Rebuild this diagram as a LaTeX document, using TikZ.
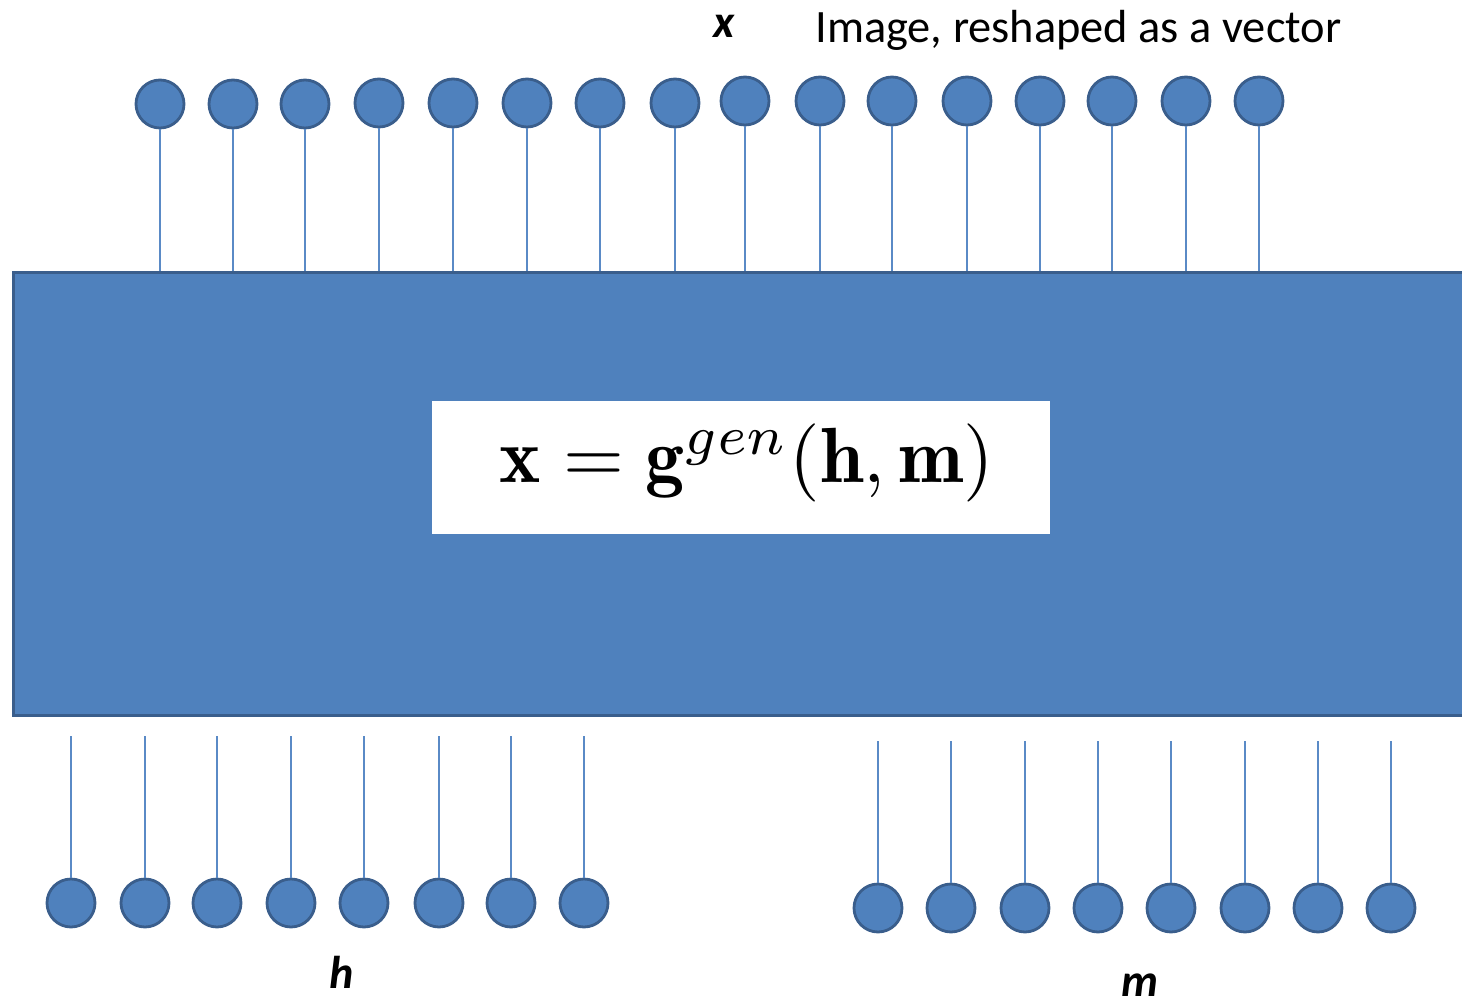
\documentclass[tikz,border=0pt]{standalone}
\usepackage{fontspec}
\usepackage{amsmath}
\usepackage{graphicx}
\newfontfamily\calib{Carlito}
\definecolor{boxblue}{HTML}{4F81BD}
\definecolor{edgeblue}{HTML}{3A5E8C}
\definecolor{stemblue}{HTML}{5A8AC6}
\begin{document}
\begin{tikzpicture}[x=0.5pt,y=-0.5pt,
  unit/.style={circle,fill=boxblue,draw=edgeblue,line width=1.4pt,minimum size=24pt,inner sep=0pt},
  stem/.style={draw=stemblue,line width=1pt},
  lbl/.style={font=\calib\fontsize{23}{27}\selectfont\bfseries\itshape,inner sep=0pt},
  capt/.style={font=\calib\fontsize{23.2}{27}\selectfont,inner sep=0pt,anchor=west}]
\clip (0,0) rectangle (1462,1006);
% main block
\node[draw=edgeblue,fill=boxblue,line width=1.5pt,minimum width=750pt,minimum height=221.5pt,inner sep=0pt,anchor=north west] (gen) at (12,271) {};
\node[fill=white,minimum width=309pt,minimum height=66.5pt,inner sep=0pt] (eq) at (741,467.5) {};
\node[inner sep=0pt] (eqtext) at (747,463)
  {\resizebox{247pt}{!}{$\mathbf{x}=\mathbf{g}^{gen}(\mathbf{h},\mathbf{m})$}};
% top units (x)
\foreach \i/\px/\py in {1/160/104,2/233/104,3/305/104,4/379/103,5/453/103,6/527/103,7/600/103,8/675/103,9/745/101,10/820/101,11/892/101,12/967/101,13/1040/101,14/1112/101,15/1186/101,16/1259/101}{
  \node[unit] (t\i) at (\px,\py) {};
  \draw[stem] (t\i.south) -- (t\i.south |- gen.north);
}
% bottom units (h)
\foreach \i/\px in {1/71,2/145,3/217,4/291,5/364,6/439,7/511,8/584}{
  \node[unit] (h\i) at (\px,903) {};
  \coordinate (hs\i) at (\px,736);
  \draw[stem] (hs\i) -- (h\i.north);
}
% bottom units (m)
\foreach \i/\px in {1/878,2/951,3/1025,4/1098,5/1171,6/1245,7/1318,8/1391}{
  \node[unit] (m\i) at (\px,908) {};
  \coordinate (ms\i) at (\px,741);
  \draw[stem] (ms\i) -- (m\i.north);
}
% labels
\node[lbl] (xl) at (724,26) {x};
\node[capt] (cap) at (815,30) {Image, reshaped as a vector};
\node[lbl] (hl) at (342,972) {h};
\node[lbl] (ml) at (1140,985) {m};
\end{tikzpicture}
\end{document}
